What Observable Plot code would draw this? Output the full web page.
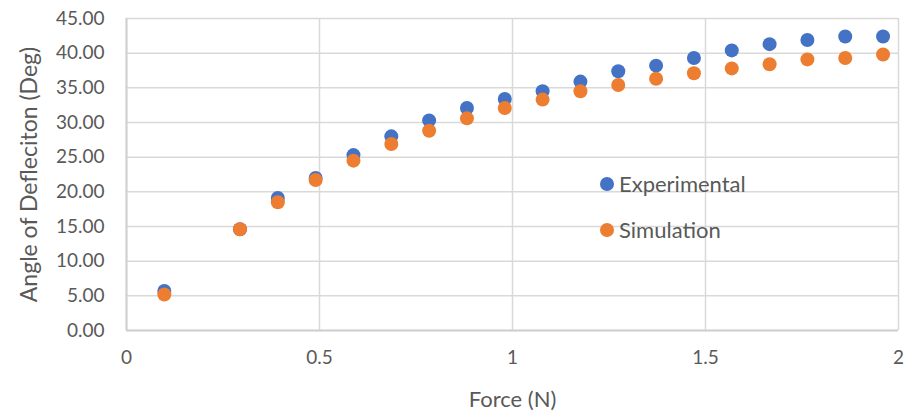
<!DOCTYPE html>
<html>
<head>
<meta charset="utf-8">
<script src="https://cdn.jsdelivr.net/npm/d3@7"></script>
<script src="https://cdn.jsdelivr.net/npm/@observablehq/plot@0.6"></script>
<style>
  html, body { margin: 0; padding: 0; background: #fff; }
  #wrap { position: relative; width: 907px; height: 417px; font-family: Lato, "Open Sans", sans-serif; }
  .leg { position: absolute; display: flex; align-items: center; color: #595959; font-size: 22px; line-height: 24px; white-space: nowrap; }
  .leg span.sw { width: 14px; height: 14px; border-radius: 50%; display: inline-block; margin-right: 5px; }
</style>
</head>
<body>
<div id="wrap"></div>
<script>
const force = [0.098, 0.294, 0.392, 0.49, 0.588, 0.686, 0.784, 0.882, 0.98, 1.078, 1.176, 1.274, 1.372, 1.47, 1.568, 1.666, 1.764, 1.862, 1.96];
const experimental = [5.7, 14.6, 19.1, 22.0, 25.3, 28.0, 30.3, 32.1, 33.4, 34.5, 35.9, 37.4, 38.2, 39.3, 40.4, 41.3, 41.9, 42.4, 42.4];
const simulation = [5.2, 14.6, 18.5, 21.7, 24.5, 26.9, 28.8, 30.6, 32.1, 33.3, 34.5, 35.4, 36.3, 37.1, 37.8, 38.4, 39.1, 39.3, 39.8];
const seriesNames = ["Experimental", "Simulation"];
const seriesColors = ["#4472C4", "#ED7D31"];
const xTicks = [0, 0.5, 1, 1.5, 2];
const yTicks = [0, 5, 10, 15, 20, 25, 30, 35, 40, 45];
const xTitle = "Force (N)";
const yTitle = "Angle of Defleciton (Deg)";

const expData = force.map((f, i) => ({x: f, y: experimental[i]}));
const simData = force.map((f, i) => ({x: f, y: simulation[i]}));

const chart = Plot.plot({
  width: 907,
  height: 417,
  marginLeft: 126,
  marginRight: 9,
  marginTop: 18,
  marginBottom: 87,
  style: {fontFamily: "Lato, 'Open Sans', sans-serif", fontSize: "19px", color: "#595959", background: "#fff"},
  x: {domain: [0, 2]},
  y: {domain: [0, 45]},
  marks: [
    Plot.gridX(xTicks, {stroke: "#d9d9d9", strokeOpacity: 1, strokeWidth: 1.5}),
    Plot.gridY(yTicks, {stroke: "#d9d9d9", strokeOpacity: 1, strokeWidth: 1.5}),
    Plot.ruleY([0], {stroke: "#d0d0d0", strokeWidth: 2}),
    Plot.ruleX([0], {stroke: "#d0d0d0", strokeWidth: 2}),
    Plot.axisX(xTicks, {tickSize: 0, tickPadding: 20, tickFormat: d => String(d), fill: "#595959", fontSize: 19, label: null}),
    Plot.axisY(yTicks, {tickSize: 0, tickPadding: 22, tickFormat: d => d.toFixed(2), fill: "#595959", fontSize: 19, label: null}),
    Plot.text([xTitle], {frameAnchor: "bottom", dy: 76, text: d => d, fill: "#595959", fontSize: 22}),
    Plot.text([yTitle], {frameAnchor: "left", dx: -97, rotate: -90, textAnchor: "middle", text: d => d, fill: "#595959", fontSize: 23}),
    Plot.dot(expData, {x: "x", y: "y", r: 7, fill: seriesColors[0]}),
    Plot.dot(simData, {x: "x", y: "y", r: 7, fill: seriesColors[1]})
  ]
});
const wrap = document.getElementById("wrap");
wrap.appendChild(chart);

// legend (inside plot area)
const legPos = [{left: 600, top: 172}, {left: 600, top: 218}];
seriesNames.forEach((n, i) => {
  const d = document.createElement("div");
  d.className = "leg";
  d.style.left = legPos[i].left + "px";
  d.style.top = legPos[i].top + "px";
  d.innerHTML = `<span class="sw" style="background:${seriesColors[i]}"></span>${n}`;
  wrap.appendChild(d);
});
</script>
</body>
</html>
